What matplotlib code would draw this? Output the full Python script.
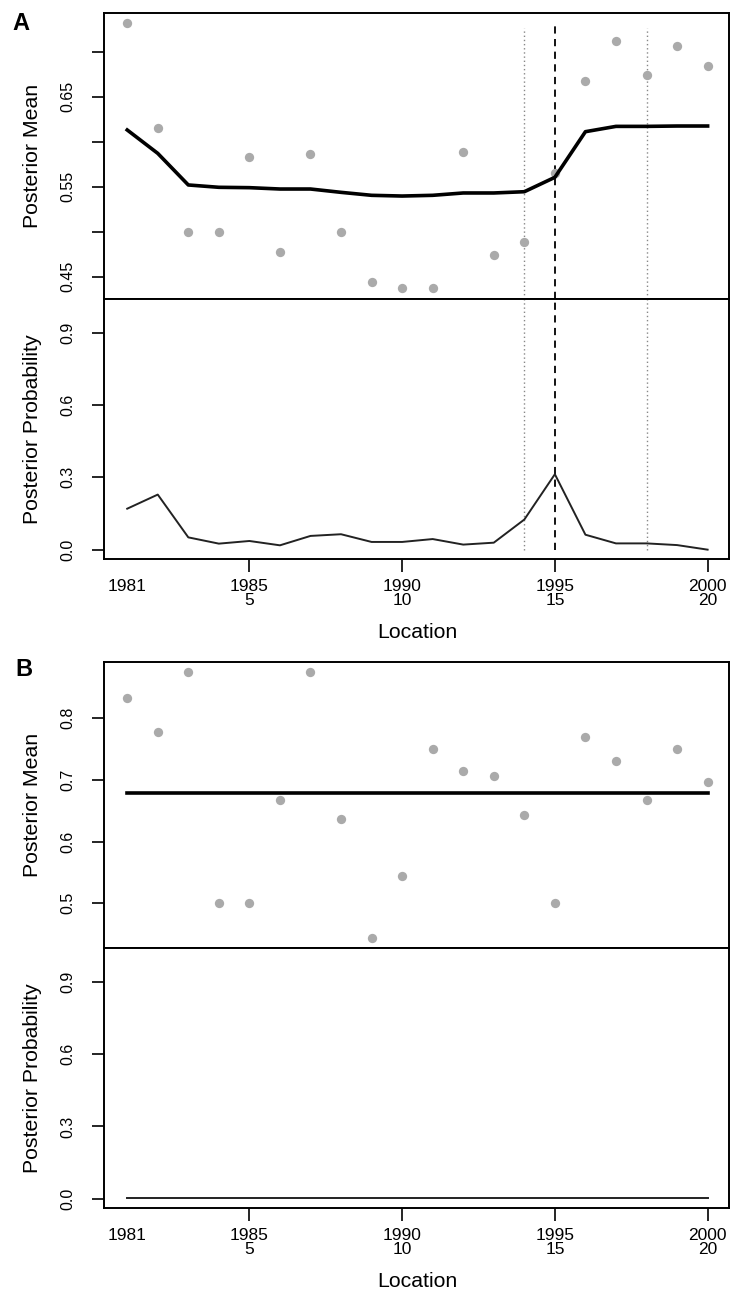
import numpy as np
import matplotlib
matplotlib.use("Agg")
from matplotlib import pyplot as plt
from matplotlib.ticker import FixedLocator

plt.rcParams['font.family'] = ['Liberation Sans', 'DejaVu Sans']

# Data
years = [1981, 1982, 1983, 1984, 1985, 1986, 1987, 1988, 1989, 1990,
         1991, 1992, 1993, 1994, 1995, 1996, 1997, 1998, 1999, 2000]
locs = list(range(1, 21))

a_obs = [0.7315, 0.6156, 0.500, 0.500, 0.5833, 0.4778, 0.586, 0.500, 0.4437, 0.437,
         0.437, 0.5885, 0.4741, 0.4881, 0.5648, 0.667, 0.7119, 0.674, 0.7067, 0.6837]
a_mean = [0.613, 0.587, 0.5519, 0.5493, 0.5489, 0.5474, 0.5474, 0.5437, 0.5404, 0.5396,
          0.5404, 0.5430, 0.5430, 0.5444, 0.5604, 0.6111, 0.6170, 0.6170, 0.6174, 0.6174]
a_prob = [0.170, 0.2285, 0.051, 0.025, 0.036, 0.018, 0.057, 0.064, 0.032, 0.032,
          0.044, 0.021, 0.029, 0.125, 0.313, 0.062, 0.026, 0.026, 0.019, 0.0]

b_obs = [0.833, 0.778, 0.875, 0.500, 0.500, 0.667, 0.875, 0.636, 0.444, 0.545,
         0.750, 0.714, 0.706, 0.643, 0.500, 0.769, 0.731, 0.667, 0.750, 0.696]
b_mean = [0.679] * 20
b_prob = [0.001] * 20

# change point (dashed) and interval (dotted) for panel A
cp_loc = 15
cp_int = [14, 18]

W, H = 730, 1295
X0, X1 = 104.3, 729.0
fig = plt.figure(figsize=(W / 100, H / 100), dpi=100)


def box(top, bottom):
    return [X0 / W, 1 - bottom / H, (X1 - X0) / W, (bottom - top) / H]


def style(ax, ylab):
    for s in ax.spines.values():
        s.set_linewidth(1.4)
    ax.tick_params(axis='y', direction='out', length=9, width=1.2,
                   labelsize=11.5, pad=12, labelrotation=90)
    for lab in ax.get_yticklabels():
        lab.set_va('center')
    ax.set_xlim(0.25, 20.70)
    ax.set_ylabel(ylab, fontsize=15.3)
    ax.yaxis.set_label_coords(-(X0 - 42) / (X1 - X0), 0.5)


def mean_panel(top, bottom, obs, mean, ylim, ticks, labels):
    ax = fig.add_axes(box(top, bottom))
    ax.scatter(locs, obs, s=45, color='#aaaaaa', zorder=2, linewidths=0)
    ax.plot(locs, mean, color='black', lw=2.6, zorder=3)
    ax.set_ylim(*ylim)
    ax.set_yticks(ticks)
    ax.set_yticklabels(labels)
    ax.set_xticks([])
    style(ax, 'Posterior Mean')
    return ax


def prob_panel(top, bottom, prob, label_y):
    ax = fig.add_axes(box(top, bottom))
    ax.plot(locs, prob, color='#222222', lw=1.4, zorder=3)
    ax.set_ylim(-0.04, 1.04)
    ax.set_yticks([0.0, 0.3, 0.6, 0.9])
    ax.set_yticklabels(['0.0', '0.3', '0.6', '0.9'])
    ax.set_xticks([5, 10, 15, 20])
    ax.set_xticklabels(['%d\n%d' % (years[i - 1], i) for i in [5, 10, 15, 20]],
                       linespacing=0.92)
    ax.xaxis.set_minor_locator(FixedLocator([1]))
    ax.set_xticklabels([str(years[0])], minor=True)
    ax.tick_params(axis='x', which='major', direction='out', length=9, width=1.2,
                   labelsize=12.5, pad=5)
    ax.tick_params(axis='x', which='minor', length=0, labelsize=12.5, pad=14)
    style(ax, 'Posterior Probability')
    fig.text(417 / W, 1 - label_y / H, 'Location', fontsize=15.3,
             ha='center', va='center')
    return ax


# Panel A
axA1 = mean_panel(12.7, 299.0, a_obs, a_mean, (0.4252, 0.7433),
                  [0.45, 0.50, 0.55, 0.60, 0.65, 0.70],
                  ['0.45', '', '0.55', '', '0.65', ''])
axA2 = prob_panel(299.0, 559.3, a_prob, 633)

lo, hi = axA1.get_ylim()
for x in cp_int:
    axA1.plot([x, x], [lo, 0.726], color='#888888', lw=1.0, ls=(0, (1, 2)), zorder=1)
    axA2.plot([x, x], [0.0, 1.04], color='#888888', lw=1.0, ls=(0, (1, 2)), zorder=1)
axA1.plot([cp_loc, cp_loc], [lo, 0.7315], color='black', lw=1.3, ls=(0, (4, 3)), zorder=1)
axA2.plot([cp_loc, cp_loc], [0.0, 1.04], color='black', lw=1.3, ls=(0, (4, 3)), zorder=1)

# Panel B
axB1 = mean_panel(661.7, 948.3, b_obs, b_mean, (0.427, 0.8918),
                  [0.5, 0.6, 0.7, 0.8], ['0.5', '0.6', '0.7', '0.8'])
axB2 = prob_panel(948.3, 1208.3, b_prob, 1281.7)

fig.text(20.5 / W, 1 - 23 / H, 'A', fontsize=17, fontweight='bold', ha='center', va='center')
fig.text(24 / W, 1 - 669 / H, 'B', fontsize=17, fontweight='bold', ha='center', va='center')

fig.savefig('out.png', dpi=100)
